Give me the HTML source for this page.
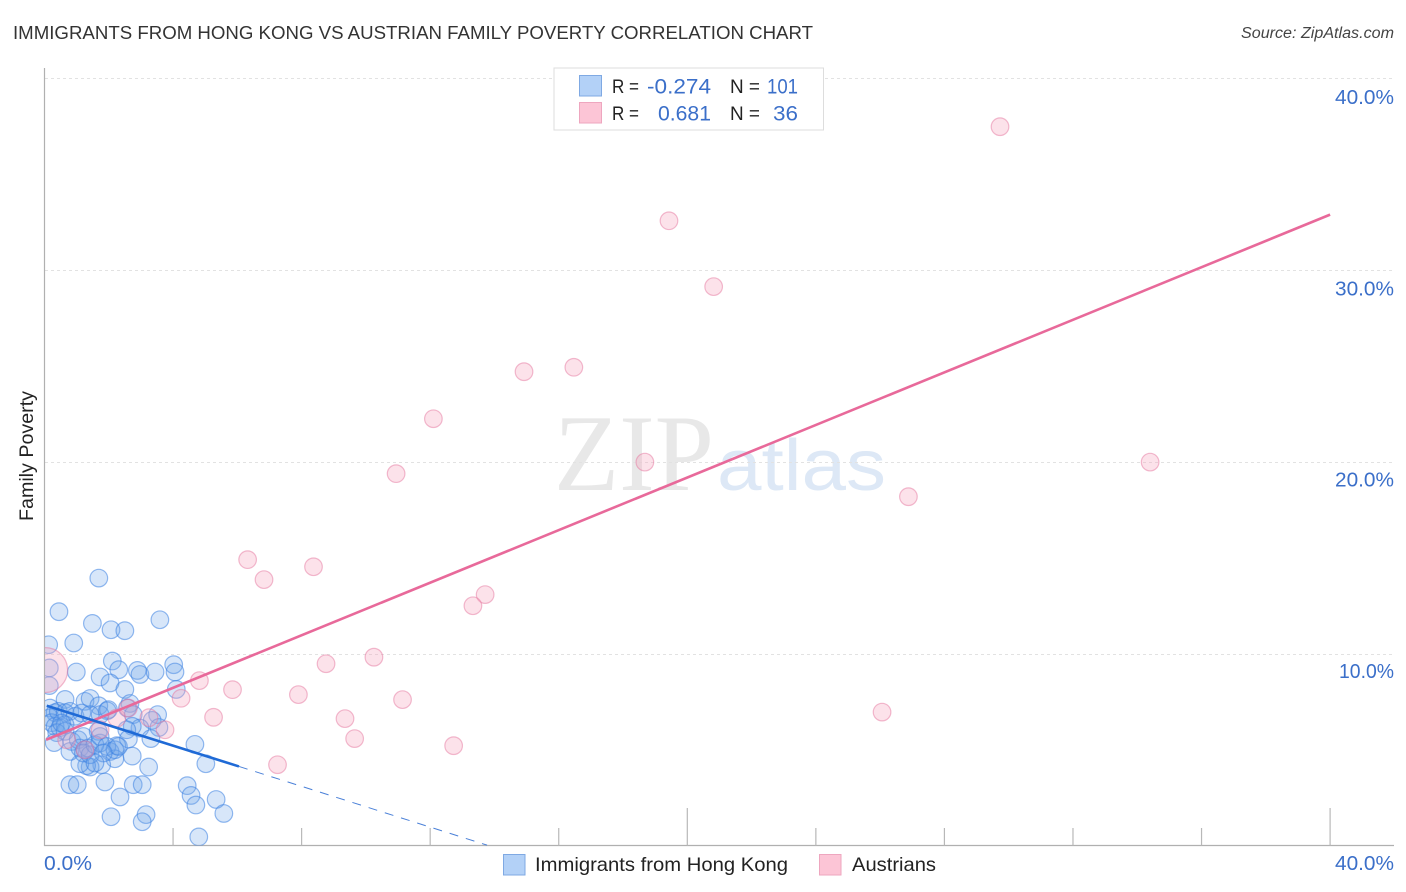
<!DOCTYPE html>
<html lang="en">
<head>
<meta charset="utf-8">
<title>Immigrants from Hong Kong vs Austrian Family Poverty Correlation Chart</title>
<style>
html,body{margin:0;padding:0;background:#fff;}
svg{display:block;font-family:"Liberation Sans",sans-serif;}
</style>
</head>
<body>
<svg id="chart" xmlns="http://www.w3.org/2000/svg" width="1406" height="892" viewBox="0 0 1406 892">
  <defs>
    <clipPath id="plot-clip"><rect x="45" y="60" width="1349" height="785.5"/></clipPath>
  </defs>
  <rect x="0" y="0" width="1406" height="892" fill="#ffffff"/>
  <text x="13" y="39" font-size="18.5" fill="#333333" textLength="800" lengthAdjust="spacingAndGlyphs">IMMIGRANTS FROM HONG KONG VS AUSTRIAN FAMILY POVERTY CORRELATION CHART</text>
  <text x="1241" y="38" font-size="15.5" font-style="italic" fill="#444444" textLength="153" lengthAdjust="spacingAndGlyphs">Source: ZipAtlas.com</text>
  <text transform="translate(33,521) rotate(-90)" font-size="19" fill="#222222" textLength="130" lengthAdjust="spacingAndGlyphs">Family Poverty</text>

  <g>
    <text x="554" y="490" font-family="'Liberation Serif',serif" font-size="109" fill="#e8e8e8" textLength="160" lengthAdjust="spacingAndGlyphs">ZIP</text>
    <text x="717" y="490" font-size="72" fill="#dde8f6" textLength="169" lengthAdjust="spacingAndGlyphs">atlas</text>
  </g>

  <g id="grid"></g>
  <g id="axes"></g>
  <g id="points-blue" clip-path="url(#plot-clip)"></g>
  <g id="points-pink" clip-path="url(#plot-clip)"></g>
  <g id="trends" clip-path="url(#plot-clip)"></g>
  <g id="labels"></g>

  <g>
    <rect x="554" y="68" width="269.5" height="62" fill="#ffffff" stroke="#dddddd" stroke-width="1"/>
    <rect x="579.5" y="75.5" width="22" height="20.5" fill="#b3d1f7" stroke="#7fa9e3" stroke-width="1"/>
    <rect x="579.5" y="102.5" width="22" height="20.5" fill="#fcc5d6" stroke="#eea6bf" stroke-width="1"/>
    <text x="612" y="93" font-size="19" fill="#222222" textLength="27" lengthAdjust="spacingAndGlyphs">R =</text>
    <text x="647" y="93.5" font-size="21.5" fill="#3b6fc9" textLength="64" lengthAdjust="spacingAndGlyphs">-0.274</text>
    <text x="730" y="93" font-size="19" fill="#222222" textLength="30" lengthAdjust="spacingAndGlyphs">N =</text>
    <text x="767" y="93.5" font-size="21.5" fill="#3b6fc9" textLength="31" lengthAdjust="spacingAndGlyphs">101</text>
    <text x="612" y="120" font-size="19" fill="#222222" textLength="27" lengthAdjust="spacingAndGlyphs">R =</text>
    <text x="658" y="120.5" font-size="21.5" fill="#3b6fc9" textLength="53" lengthAdjust="spacingAndGlyphs">0.681</text>
    <text x="730" y="120" font-size="19" fill="#222222" textLength="30" lengthAdjust="spacingAndGlyphs">N =</text>
    <text x="773" y="120.5" font-size="21.5" fill="#3b6fc9" textLength="25" lengthAdjust="spacingAndGlyphs">36</text>
  </g>

  <g>
    <rect x="503.5" y="854.5" width="21.5" height="20.5" fill="#b3d1f7" stroke="#7fa9e3" stroke-width="1"/>
    <text x="535" y="871" font-size="19.5" fill="#222222" textLength="253" lengthAdjust="spacingAndGlyphs">Immigrants from Hong Kong</text>
    <rect x="819.5" y="854.5" width="21.5" height="20.5" fill="#fcc5d6" stroke="#eea6bf" stroke-width="1"/>
    <text x="852" y="871" font-size="19.5" fill="#222222" textLength="84" lengthAdjust="spacingAndGlyphs">Austrians</text>
  </g>
</svg>
<script>
const hongKongX = [1.69,0.45,1.49,2.07,2.50,3.59,0.13,0.91,2.11,2.31,2.89,2.97,3.44,4.02,4.06,0.99,1.73,2.04,2.50,4.10,0.15,0.15,0.64,1.26,1.42,1.69,1.95,2.66,2.58,2.76,3.52,3.35,3.56,2.97,2.73,2.56,2.61,3.31,4.68,5.02,2.25,2.04,2.19,2.73,3.24,1.78,1.42,1.31,1.10,1.88,2.76,3.04,0.79,1.02,2.35,2.07,3.16,3.04,4.44,4.56,4.71,5.34,5.58,4.80,0.17,0.33,0.17,0.22,0.43,0.64,0.79,0.95,0.33,0.48,0.64,0.38,0.30,0.64,0.85,0.79,1.05,1.21,1.10,1.26,1.36,1.21,1.42,1.67,1.73,1.57,1.73,1.16,1.42,1.73,1.99,1.94,2.19,2.30,1.83,1.57,0.53];
const hongKongY = [13.99,12.24,11.63,11.30,11.25,11.82,10.52,10.61,9.67,9.22,9.18,8.97,9.10,9.48,9.10,9.10,8.84,8.53,8.19,8.19,9.31,8.39,7.67,7.57,7.72,7.34,7.08,7.46,7.22,6.88,6.88,6.58,6.21,6.18,6.27,6.09,5.61,5.63,5.33,4.32,5.26,4.96,4.58,4.72,4.15,4.27,4.15,4.22,4.32,3.37,3.23,3.23,3.23,3.23,2.59,1.56,1.67,1.30,3.18,2.67,2.17,2.46,1.73,0.51,7.22,6.98,6.72,6.46,7.05,6.98,7.05,6.79,6.27,6.20,6.35,5.94,5.42,6.01,5.48,4.96,5.57,5.74,5.14,5.05,5.14,4.88,4.79,6.01,5.40,5.31,5.74,6.96,6.88,6.88,7.14,5.22,5.05,5.22,4.88,4.36,6.44];
const austrianX = [29.73,19.43,20.82,16.47,14.92,12.10,10.94,18.68,34.40,26.88,6.32,6.83,8.37,13.71,13.33,8.76,10.25,4.82,5.85,7.90,11.14,4.25,5.26,9.35,26.06,9.65,12.73,7.25,3.75,3.25,1.73,2.25,2.61,1.26,0.69,0.02];
const austrianY = [37.50,32.60,29.17,24.97,24.74,22.29,19.43,20.03,20.03,18.23,14.95,13.91,14.58,13.13,12.55,9.53,9.87,8.65,8.18,7.92,7.66,7.73,6.74,6.67,7.01,5.63,5.26,4.27,6.09,6.72,6.09,6.70,7.22,5.05,5.57,9.20];
const austrianSize = [1,1,1,1,1,1,1,1,1,1,1,1,1,1,1,1,1,1,1,1,1,1,1,1,1,1,1,1,1,1,1,1,1,1,1,2.55];
const hongKongTrendX = [0.07,6.05];
const hongKongTrendY = [7.34,4.18];
const hongKongDashX = [6.05,13.77];
const hongKongDashY = [4.18,0.08];
const austrianTrendX = [0.05,40];
const austrianTrendY = [5.57,32.92];
const yGridValues = [10,20,30,40];
const yTickLabels = ['10.0%','20.0%','30.0%','40.0%'];
const xTickValues = [4,8,12,16,20,24,28,32,36,40];
const xMajorTicks = [20,40];
const xEndValues = [0,40];
const xEndLabels = ['0.0%','40.0%'];

const SVGNS = 'http://www.w3.org/2000/svg';
const sx = v => 44.5 + v * 32.14;
const sy = v => 846.7 - v * 19.2;
const labelY = v => 869.2 - v * 19.13;
const mk = (tag, parent, attrs) => {
  const el = document.createElementNS(SVGNS, tag);
  Object.keys(attrs).forEach(k => el.setAttribute(k, attrs[k]));
  document.getElementById(parent).appendChild(el);
  return el;
};

yGridValues.forEach((v, i) => {
  const g = mk('line', 'grid', {x1: 45, x2: 1394, y1: sy(v) - 0.2, y2: sy(v) - 0.2, stroke: '#e2e2e2', 'stroke-width': 1, 'stroke-dasharray': '3 3'});
  
  
  const t = mk('text', 'labels', {x: 1394, y: labelY(v), 'font-size': 20, fill: '#3b6fc9', 'text-anchor': 'end', textLength: i === 0 ? 55 : 59, lengthAdjust: 'spacingAndGlyphs'});
  t.textContent = yTickLabels[i];
  
  
});

const yAxisLine = mk('line', 'axes', {x1: 44.5, x2: 44.5, y1: 68, y2: 846, stroke: '#b0b0b0', 'stroke-width': 1.2});


const xAxisLine = mk('line', 'axes', {x1: 44, x2: 1394, y1: 845.5, y2: 845.5, stroke: '#b0b0b0', 'stroke-width': 1.2});



xTickValues.forEach(v => {
  const top = xMajorTicks.includes(v) ? 808 : 828;
  const tk = mk('line', 'axes', {x1: sx(v), x2: sx(v), y1: top, y2: 845.5, stroke: '#b8b8b8', 'stroke-width': 1.2});
  
  
});

xEndValues.forEach((v, i) => {
  const t = mk('text', 'labels', {x: i === 0 ? 44 : 1335, y: 870, 'font-size': 20, fill: '#3b6fc9', textLength: i === 0 ? 48 : 59, lengthAdjust: 'spacingAndGlyphs'});
  t.textContent = xEndLabels[i];
  
  
});

hongKongX.forEach((v, i) => {
  const c = mk('circle', 'points-blue', {cx: sx(v), cy: sy(hongKongY[i]), r: 8.8, fill: 'rgba(110,165,235,0.28)', stroke: 'rgba(60,130,225,0.55)', 'stroke-width': 1.2});
  
  
});

austrianX.forEach((v, i) => {
  const c = mk('circle', 'points-pink', {cx: sx(v), cy: sy(austrianY[i]), r: 8.8 * austrianSize[i], fill: 'rgba(245,165,190,0.32)', stroke: 'rgba(230,120,160,0.5)', 'stroke-width': 1.2});
  
  
});

const dash = mk('line', 'trends', {x1: sx(hongKongDashX[0]), y1: sy(hongKongDashY[0]), x2: sx(hongKongDashX[1]), y2: sy(hongKongDashY[1]), stroke: '#4a80d8', 'stroke-width': 1, 'stroke-dasharray': '9 8'});


const pinkTrend = mk('line', 'trends', {x1: sx(austrianTrendX[0]), y1: sy(austrianTrendY[0]), x2: sx(austrianTrendX[1]), y2: sy(austrianTrendY[1]), stroke: '#e8699a', 'stroke-width': 2.6});


const blueTrend = mk('line', 'trends', {x1: sx(hongKongTrendX[0]), y1: sy(hongKongTrendY[0]), x2: sx(hongKongTrendX[1]), y2: sy(hongKongTrendY[1]), stroke: '#1f6ad6', 'stroke-width': 2.6});


</script>
</body>
</html>
